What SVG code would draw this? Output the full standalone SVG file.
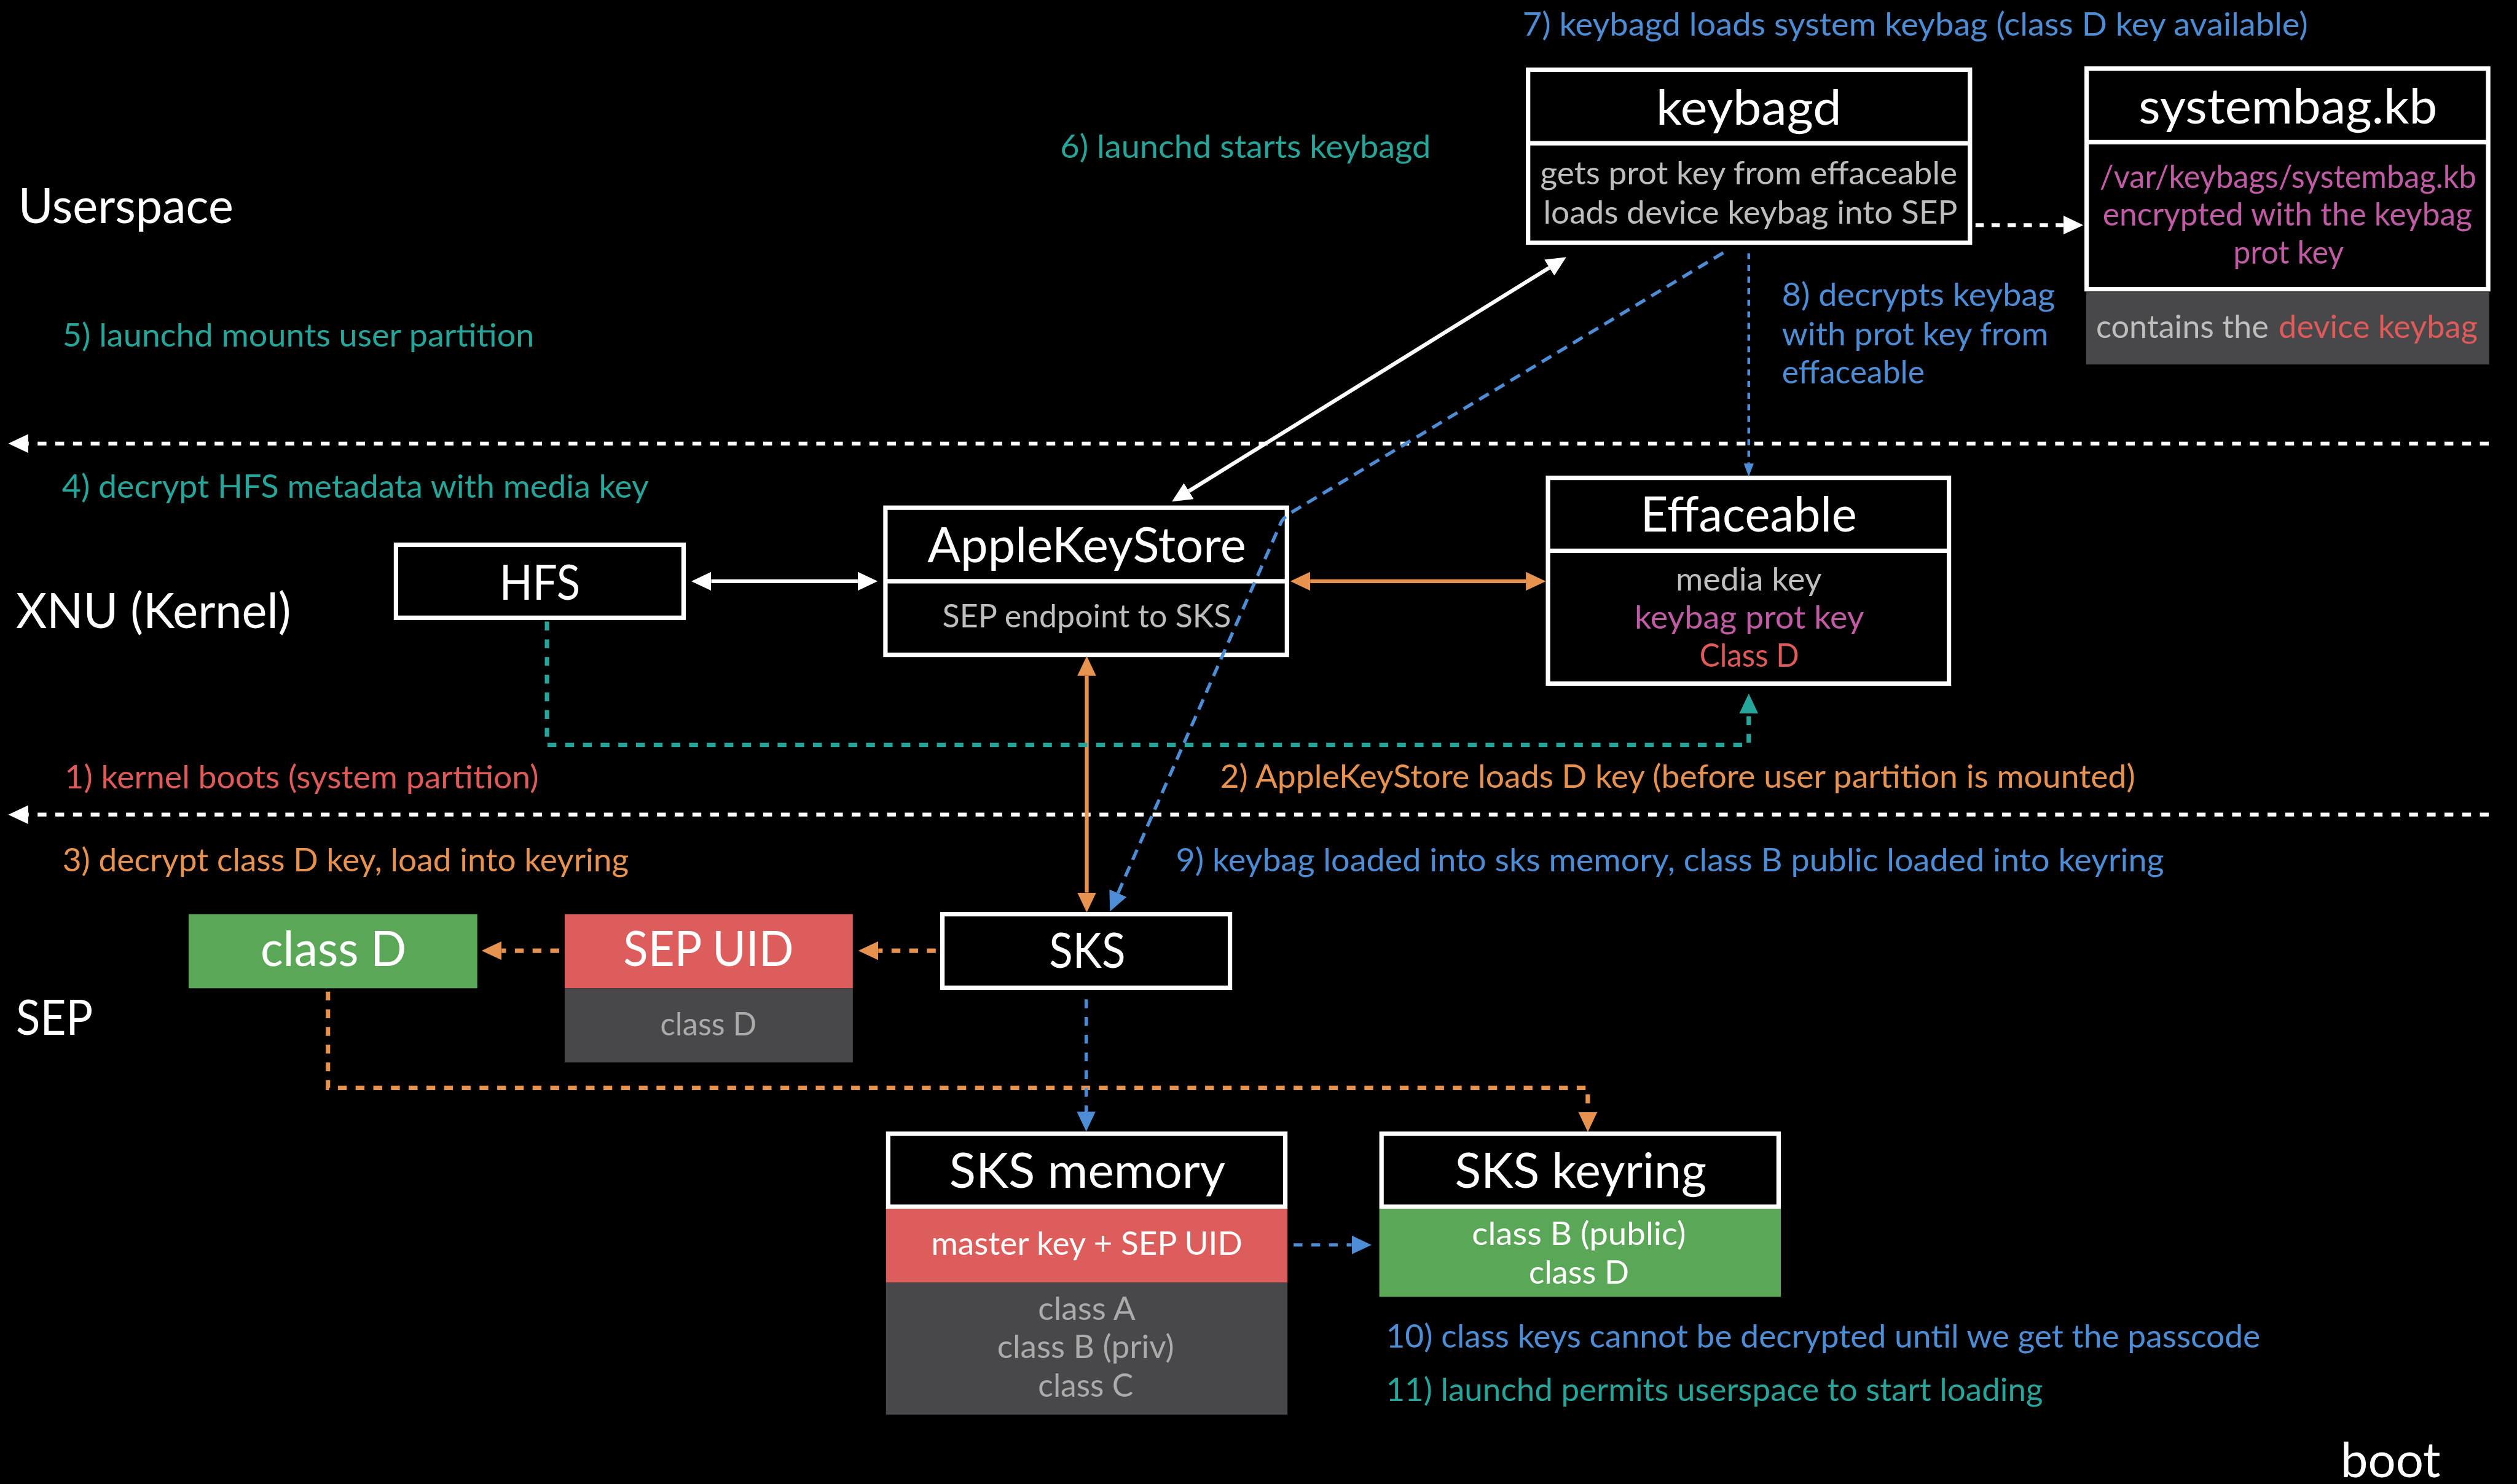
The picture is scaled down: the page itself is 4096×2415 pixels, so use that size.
<svg xmlns="http://www.w3.org/2000/svg" width="4096" height="2415" viewBox="0 0 4096 2415">
  <style>
    text { font-family: Lato, "Open Sans", "Liberation Sans", sans-serif; }
    .section { font-size: 88px; fill: #ffffff; }
    .title { font-size: 89px; fill: #ffffff; text-anchor: middle; }
    .body { font-size: 59px; text-anchor: middle; }
    .lbl { font-size: 57px; }
    .white { fill: #ffffff; }
    .gray { fill: #BEBEBE; }
    .dgray { fill: #ABABAB; }
    .teal { fill: #26A69A; }
    .blue { fill: #4C8DD6; }
    .orange { fill: #E8924F; }
    .red { fill: #E05A5A; }
    .mag { fill: #C15BA6; }
    .box { fill: none; stroke: #ffffff; stroke-width: 8; }
    .div { stroke: #ffffff; stroke-width: 8; }
    .c { fill: none; }
    .sep { stroke: #ffffff; stroke-width: 7; stroke-dasharray: 16 16; }
    .wsolid { stroke: #ffffff; stroke-width: 7; }
    .osolid { stroke: #E8924F; stroke-width: 7; }
    .odash { stroke: #E8924F; stroke-width: 8; stroke-dasharray: 16 16; }
    .tdash { stroke: #26A69A; stroke-width: 8; stroke-dasharray: 16 16; }
    .bdash { stroke: #4C8DD6; stroke-width: 6; stroke-dasharray: 16 16; }
    .bdiag { stroke: #4C8DD6; stroke-width: 6; stroke-dasharray: 20 13; }
    .bfine { stroke: #4C8DD6; stroke-width: 5; stroke-dasharray: 11 10; }
  </style>
  <defs>
    <marker id="hW" viewBox="0 0 36 34" markerWidth="36" markerHeight="34" markerUnits="userSpaceOnUse" refX="0" refY="17" orient="auto-start-reverse">
      <path d="M0,0 L36,17 L0,34 Z" fill="#ffffff"/>
    </marker>
    <marker id="hO" viewBox="0 0 36 34" markerWidth="36" markerHeight="34" markerUnits="userSpaceOnUse" refX="0" refY="17" orient="auto-start-reverse">
      <path d="M0,0 L36,17 L0,34 Z" fill="#E8924F"/>
    </marker>
    <marker id="hT" viewBox="0 0 36 34" markerWidth="36" markerHeight="34" markerUnits="userSpaceOnUse" refX="0" refY="17" orient="auto-start-reverse">
      <path d="M0,0 L36,17 L0,34 Z" fill="#26A69A"/>
    </marker>
    <marker id="hB" viewBox="0 0 36 34" markerWidth="36" markerHeight="34" markerUnits="userSpaceOnUse" refX="0" refY="17" orient="auto-start-reverse">
      <path d="M0,0 L36,17 L0,34 Z" fill="#4C8DD6"/>
    </marker>
    <marker id="hBs" viewBox="0 0 24 18" markerWidth="24" markerHeight="18" markerUnits="userSpaceOnUse" refX="0" refY="9" orient="auto-start-reverse">
      <path d="M0,0 L24,9 L0,18 Z" fill="#4C8DD6"/>
    </marker>
  </defs>

  <rect x="0" y="0" width="4096" height="2415" fill="#000000"/>

  <g transform="scale(0.9)">
    <!-- layer names -->
    <g id="layer-labels">
      <text class="section" x="33" y="403" textLength="389" lengthAdjust="spacingAndGlyphs">Userspace</text>
      <text class="section" x="29" y="1136" textLength="497" lengthAdjust="spacingAndGlyphs">XNU (Kernel)</text>
      <text class="section" x="29" y="1871" textLength="139" lengthAdjust="spacingAndGlyphs">SEP</text>
      <text class="section" x="4232" y="2671" textLength="181" lengthAdjust="spacingAndGlyphs">boot</text>
    </g>

    <!-- step annotations -->
    <g id="steps" class="lbl">
      <text class="blue" x="2753" y="64" textLength="1420" lengthAdjust="spacingAndGlyphs">7) keybagd loads system keybag (class D key available)</text>
      <text class="teal" x="1917" y="285" textLength="670" lengthAdjust="spacingAndGlyphs">6) launchd starts keybagd</text>
      <text class="teal" x="113" y="627" textLength="853" lengthAdjust="spacingAndGlyphs">5) launchd mounts user partition</text>
      <text class="teal" x="112" y="900" textLength="1061" lengthAdjust="spacingAndGlyphs">4) decrypt HFS metadata with media key</text>
      <text class="red" x="117" y="1426" textLength="857" lengthAdjust="spacingAndGlyphs">1) kernel boots (system partition)</text>
      <text class="orange" x="2206" y="1424" textLength="1655" lengthAdjust="spacingAndGlyphs">2) AppleKeyStore loads D key (before user partition is mounted)</text>
      <text class="orange" x="113" y="1575" textLength="1024" lengthAdjust="spacingAndGlyphs">3) decrypt class D key, load into keyring</text>
      <text class="blue" x="2126" y="1575" textLength="1787" lengthAdjust="spacingAndGlyphs">9) keybag loaded into sks memory, class B public loaded into keyring</text>
      <text class="blue" x="3222" y="553" textLength="494" lengthAdjust="spacingAndGlyphs">8) decrypts keybag</text>
      <text class="blue" x="3222" y="624" textLength="482" lengthAdjust="spacingAndGlyphs">with prot key from</text>
      <text class="blue" x="3222" y="693" textLength="258" lengthAdjust="spacingAndGlyphs">effaceable</text>
      <text class="blue" x="2506" y="2437" textLength="1581" lengthAdjust="spacingAndGlyphs">10) class keys cannot be decrypted until we get the passcode</text>
      <text class="teal" x="2506" y="2533" textLength="1188" lengthAdjust="spacingAndGlyphs">11) launchd permits userspace to start loading</text>
    </g>

    <!-- nodes -->
    <g id="node-keybagd">
      <rect class="box" x="2763" y="126" width="799" height="313"/>
      <line class="div" x1="2763" y1="259" x2="3562" y2="259"/>
      <text class="title" x="3162" y="225" textLength="335" lengthAdjust="spacingAndGlyphs">keybagd</text>
      <text class="body gray" x="3162" y="333" textLength="754" lengthAdjust="spacingAndGlyphs">gets prot key from effaceable</text>
      <text class="body gray" x="3165" y="404" textLength="749" lengthAdjust="spacingAndGlyphs">loads device keybag into SEP</text>
    </g>

    <g id="node-systembag">
      <rect class="box" x="3773" y="124" width="726" height="399"/>
      <line class="div" x1="3773" y1="257" x2="4499" y2="257"/>
      <rect x="3772" y="528" width="729" height="131" fill="#48484A"/>
      <text class="title" x="4137" y="223" textLength="540" lengthAdjust="spacingAndGlyphs">systembag.kb</text>
      <text class="body mag" x="4137" y="340" textLength="681" lengthAdjust="spacingAndGlyphs">/var/keybags/systembag.kb</text>
      <text class="body mag" x="4136" y="408" textLength="668" lengthAdjust="spacingAndGlyphs">encrypted with the keybag</text>
      <text class="body mag" x="4138" y="477" textLength="200" lengthAdjust="spacingAndGlyphs">prot key</text>
      <text class="body gray" x="3790" y="611" style="text-anchor:start" textLength="312" lengthAdjust="spacingAndGlyphs">contains the</text>
      <text class="body red" x="4120" y="611" style="text-anchor:start" textLength="360" lengthAdjust="spacingAndGlyphs">device keybag</text>
    </g>

    <g id="node-applekeystore">
      <rect class="box" x="1601" y="918" width="726" height="266"/>
      <line class="div" x1="1601" y1="1051" x2="2327" y2="1051"/>
      <text class="title" x="1965" y="1017" textLength="576" lengthAdjust="spacingAndGlyphs">AppleKeyStore</text>
      <text class="body gray" x="1965" y="1134" textLength="522" lengthAdjust="spacingAndGlyphs">SEP endpoint to SKS</text>
    </g>

    <g id="node-effaceable">
      <rect class="box" x="2799" y="864" width="725" height="372"/>
      <line class="div" x1="2799" y1="996" x2="3524" y2="996"/>
      <text class="title" x="3162" y="961" textLength="391" lengthAdjust="spacingAndGlyphs">Effaceable</text>
      <text class="body gray" x="3162" y="1068" textLength="264" lengthAdjust="spacingAndGlyphs">media key</text>
      <text class="body mag" x="3163" y="1137" textLength="415" lengthAdjust="spacingAndGlyphs">keybag prot key</text>
      <text class="body red" x="3163" y="1206" textLength="180" lengthAdjust="spacingAndGlyphs">Class D</text>
    </g>

    <g id="node-hfs">
      <rect class="box" x="716" y="985" width="520" height="132"/>
      <text class="title" x="976" y="1084" textLength="146" lengthAdjust="spacingAndGlyphs">HFS</text>
    </g>

    <g id="node-sks">
      <rect class="box" x="1704" y="1653" width="520" height="133"/>
      <text class="title" x="1966" y="1750" textLength="138" lengthAdjust="spacingAndGlyphs">SKS</text>
    </g>

    <g id="node-sep-uid">
      <rect x="1021" y="1653" width="521" height="134" fill="#DD5C5C"/>
      <rect x="1021" y="1787" width="521" height="134" fill="#48484A"/>
      <text class="title" x="1281" y="1747" textLength="308" lengthAdjust="spacingAndGlyphs">SEP UID</text>
      <text class="body dgray" x="1281" y="1872" textLength="174" lengthAdjust="spacingAndGlyphs">class D</text>
    </g>

    <g id="node-class-d">
      <rect x="341" y="1653" width="522" height="134" fill="#5AA857"/>
      <text class="title" x="603" y="1747" textLength="264" lengthAdjust="spacingAndGlyphs">class D</text>
    </g>

    <g id="node-sks-memory">
      <rect class="box" x="1606" y="2050" width="718" height="132"/>
      <rect x="1602" y="2186" width="726" height="133" fill="#DD5C5C"/>
      <rect x="1602" y="2319" width="726" height="239" fill="#48484A"/>
      <text class="title" x="1966" y="2148" textLength="499" lengthAdjust="spacingAndGlyphs">SKS memory</text>
      <text class="body white" x="1965" y="2269" textLength="563" lengthAdjust="spacingAndGlyphs">master key + SEP UID</text>
      <text class="body dgray" x="1965" y="2387" textLength="176" lengthAdjust="spacingAndGlyphs">class A</text>
      <text class="body dgray" x="1963" y="2456" textLength="320" lengthAdjust="spacingAndGlyphs">class B (priv)</text>
      <text class="body dgray" x="1963" y="2526" textLength="172" lengthAdjust="spacingAndGlyphs">class C</text>
    </g>

    <g id="node-sks-keyring">
      <rect class="box" x="2498" y="2050" width="718" height="132"/>
      <rect x="2494" y="2186" width="726" height="159" fill="#5AA857"/>
      <text class="title" x="2858" y="2148" textLength="455" lengthAdjust="spacingAndGlyphs">SKS keyring</text>
      <text class="body white" x="2855" y="2251" textLength="387" lengthAdjust="spacingAndGlyphs">class B (public)</text>
      <text class="body white" x="2855" y="2321" textLength="181" lengthAdjust="spacingAndGlyphs">class D</text>
    </g>

    <!-- connectors, drawn over the nodes so the keybag path shows through AppleKeyStore -->
    <g id="connectors" class="c">
      <!-- layer separators -->
      <path class="sep" d="M4500 802 H51" marker-end="url(#hW)"/>
      <path class="sep" d="M4500 1473 H51" marker-end="url(#hW)"/>
      <!-- keybagd -> systembag.kb -->
      <path class="wsolid" d="M3572 407 H3731" stroke-dasharray="15 14" marker-end="url(#hW)"/>
      <!-- AppleKeyStore <-> keybagd -->
      <path class="wsolid" d="M2149.6 888 L2801.4 484" marker-start="url(#hW)" marker-end="url(#hW)"/>
      <!-- HFS <-> AppleKeyStore -->
      <path class="wsolid" d="M1286 1051 H1551" marker-start="url(#hW)" marker-end="url(#hW)"/>
      <!-- AppleKeyStore <-> Effaceable -->
      <path class="osolid" d="M2369 1051 H2759" marker-start="url(#hO)" marker-end="url(#hO)"/>
      <!-- AppleKeyStore <-> SKS -->
      <path class="osolid" stroke-width="6" d="M1965 1222 V1614" marker-start="url(#hO)" marker-end="url(#hO)"/>
      <!-- HFS -> Effaceable -->
      <path class="tdash" d="M989 1124 V1347 H3162 V1290" marker-end="url(#hT)"/>
      <!-- keybagd -> SKS -->
      <path class="bdiag" d="M3116 457 L2336 926 Q2318 937 2314 950 L2021.5 1615" marker-end="url(#hB)"/>
      <!-- keybagd -> Effaceable -->
      <path class="bfine" d="M3162 458 V838" marker-end="url(#hBs)"/>
      <!-- SKS -> SEP UID -> class D -->
      <path class="odash" d="M1692 1719 H1588" marker-end="url(#hO)"/>
      <path class="odash" d="M1011 1719 H907" marker-end="url(#hO)"/>
      <!-- class D -> SKS keyring -->
      <path class="odash" d="M593 1793 V1967 H2871 V2011" marker-end="url(#hO)"/>
      <!-- SKS -> SKS memory -->
      <path class="bdash" d="M1964 1807 V2010" marker-end="url(#hB)"/>
      <!-- SKS memory -> SKS keyring -->
      <path class="bdash" d="M2339 2251 H2444" stroke-dasharray="14 12" marker-end="url(#hB)"/>
    </g>
  </g>
</svg>
